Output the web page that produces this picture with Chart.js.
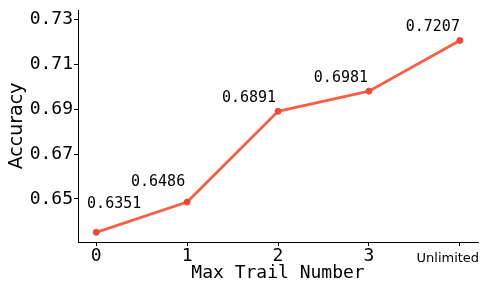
<!DOCTYPE html>
<html>
<head>
<meta charset="utf-8">
<script src="https://cdn.jsdelivr.net/npm/chart.js@4"></script>
<style>
  html, body { margin: 0; padding: 0; background: #fff; }
  #wrap { width: 483px; height: 284px; }
</style>
</head>
<body>
<div id="wrap"><canvas id="chart"></canvas></div>
<script>
const trailLabels = ["0", "1", "2", "3", "Unlimited"];
const trailPos = [0, 1, 2, 3, 4];
const accuracy = [0.6351, 0.6486, 0.6891, 0.6981, 0.7207];
const yTicks = [0.65, 0.67, 0.69, 0.71, 0.73];

const lineColor = "rgb(248, 96, 70)";
const pointColor = "rgb(240, 72, 52)";

// text offsets of the value labels, in pixels from each point
const labelOffsets = [[18, -28], [-29, -20], [-29, -13], [-28, -13], [-27, -13]];

const valueLabels = {
    id: "valueLabels",
    afterDatasetsDraw(chart) {
        const ctx = chart.ctx;
        const meta = chart.getDatasetMeta(0);
        ctx.save();
        ctx.font = "15px 'DejaVu Sans Mono'";
        ctx.fillStyle = "#000";
        ctx.textAlign = "center";
        ctx.textBaseline = "middle";
        meta.data.forEach((pt, i) => {
            const off = labelOffsets[i];
            ctx.fillText(accuracy[i].toFixed(4), pt.x + off[0], pt.y + off[1]);
        });
        // the last tick label is smaller and sits left of its tick
        const xs = chart.scales.x;
        ctx.font = "13px 'DejaVu Sans'";
        ctx.fillText(trailLabels[4], xs.getPixelForValue(trailPos[4]) - 12, xs.top + 17);
        ctx.restore();
    }
};

const ctx = document.getElementById("chart").getContext("2d");
new Chart(ctx, {
    type: "line",
    data: {
        datasets: [{
            data: trailPos.map((x, i) => ({ x: x, y: accuracy[i] })),
            borderColor: lineColor,
            backgroundColor: pointColor,
            borderWidth: 2.8,
            pointRadius: 3,
            pointBorderWidth: 1,
            pointBorderColor: pointColor,
            pointBackgroundColor: pointColor,
            tension: 0
        }]
    },
    options: {
        responsive: true,
        maintainAspectRatio: false,
        animation: false,
        layout: { padding: { top: 10, right: 4, left: 0, bottom: 0 } },
        plugins: {
            legend: { display: false },
            tooltip: { enabled: false }
        },
        scales: {
            x: {
                type: "linear",
                min: -0.2,
                max: 4.2,
                afterBuildTicks: scale => { scale.ticks = trailPos.map(v => ({ value: v })); },
                afterFit: scale => {
                    scale.height = 42;
                    scale.paddingLeft = 0;
                    scale.paddingRight = 0;
                },
                border: { display: true, color: "#000", width: 1 },
                grid: { display: true, drawOnChartArea: false, color: "#000", tickLength: 4 },
                ticks: {
                    padding: 0,
                    maxRotation: 0,
                    autoSkip: false,
                    color: "#000",
                    callback: v => (v === trailPos[4] ? "" : trailLabels[trailPos.indexOf(v)]),
                    font: { family: "DejaVu Sans Mono", size: 18 }
                },
                title: {
                    display: true,
                    text: "Max Trail Number",
                    color: "#000",
                    font: { family: "DejaVu Sans Mono", size: 18 },
                    padding: { top: 0, bottom: 0 }
                }
            },
            y: {
                min: 0.6308,
                max: 0.7343,
                afterBuildTicks: scale => { scale.ticks = yTicks.map(v => ({ value: v })); },
                afterFit: scale => {
                    scale.width = 78;
                    scale.paddingTop = 0;
                    scale.paddingBottom = 0;
                },
                border: { display: true, color: "#000", width: 1 },
                grid: { display: true, drawOnChartArea: false, color: "#000", tickLength: 4 },
                ticks: {
                    padding: 1,
                    color: "#000",
                    callback: v => v.toFixed(2),
                    font: { family: "DejaVu Sans Mono", size: 18 }
                },
                title: {
                    display: true,
                    text: "Accuracy",
                    color: "#000",
                    font: { family: "DejaVu Sans", size: 19 },
                    padding: { top: 6, bottom: 0 }
                }
            }
        }
    },
    plugins: [valueLabels]
});
</script>
</body>
</html>
